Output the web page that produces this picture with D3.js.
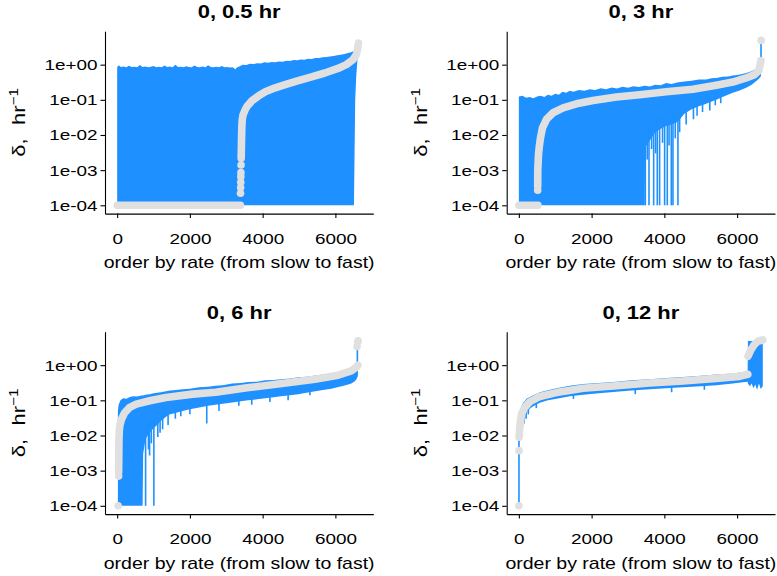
<!DOCTYPE html>
<html><head><meta charset="utf-8">
<script src="https://cdn.jsdelivr.net/npm/d3@7"></script>
<style>body{margin:0;background:#fff}</style>
</head><body>
<svg id="c" width="777" height="576" xmlns="http://www.w3.org/2000/svg"></svg>
<script>
// ---------- data ----------
const titles = ["0, 0.5 hr", "0, 3 hr", "0, 6 hr", "0, 12 hr"];
const xTicks = [0, 2000, 4000, 6000];
const xTickLabels = ["0", "2000", "4000", "6000"];
const yTicks = [1e-4, 1e-3, 1e-2, 1e-1, 1];
const yTickLabels = ["1e-04", "1e-03", "1e-02", "1e-01", "1e+00"];
const xExtent = [1, 6707];
const yExtent = [1e-4, 5.2];
const xTitle = "order by rate (from slow to fast)";

// panel "0, 0.5 hr": error-bar band [order, lower, upper]
const band05 = [[0,1e-4,0.84],[40,1e-4,0.97],[100,1e-4,0.86],[175,1e-4,0.88],[250,1e-4,0.85],[325,1e-4,0.93],[400,1e-4,0.86],[475,1e-4,0.87],[550,1e-4,0.84],[625,1e-4,0.98],[700,1e-4,0.86],[775,1e-4,0.88],[850,1e-4,0.85],[925,1e-4,0.87],[1000,1e-4,0.92],[1075,1e-4,0.85],[1150,1e-4,0.87],[1225,1e-4,0.84],[1300,1e-4,0.95],[1375,1e-4,0.86],[1450,1e-4,0.88],[1525,1e-4,0.85],[1600,1e-4,0.99],[1675,1e-4,0.86],[1750,1e-4,0.87],[1825,1e-4,0.84],[1900,1e-4,0.9],[1975,1e-4,0.86],[2050,1e-4,0.85],[2125,1e-4,0.94],[2200,1e-4,0.86],[2275,1e-4,0.84],[2350,1e-4,0.88],[2425,1e-4,0.85],[2500,1e-4,0.96],[2575,1e-4,0.86],[2650,1e-4,0.84],[2725,1e-4,0.87],[2800,1e-4,0.85],[2875,1e-4,0.92],[2950,1e-4,0.84],[3025,1e-4,0.86],[3100,1e-4,0.83],[3175,1e-4,0.85],[3250,1e-4,0.74],[3300,1e-4,0.84],[3375,1e-4,0.9],[3450,1e-4,1.0],[3550,1e-4,0.98],[3650,1e-4,1.07],[3750,1e-4,1.04],[3850,1e-4,1.1],[3950,1e-4,1.08],[4050,1e-4,1.18],[4150,1e-4,1.13],[4250,1e-4,1.2],[4350,1e-4,1.17],[4450,1e-4,1.24],[4550,1e-4,1.22],[4650,1e-4,1.3],[4750,1e-4,1.27],[4850,1e-4,1.35],[4950,1e-4,1.33],[5050,1e-4,1.4],[5150,1e-4,1.39],[5250,1e-4,1.47],[5350,1e-4,1.46],[5450,1e-4,1.55],[5550,1e-4,1.54],[5650,1e-4,1.62],[5750,1e-4,1.65],[5850,1e-4,1.72],[5950,1e-4,1.76],[6050,1e-4,1.85],[6150,1e-4,1.9],[6250,1e-4,2.0],[6350,1e-4,2.14],[6450,1e-4,2.3],[6510,1e-4,2.5],[6525,0.002,2.6],[6545,0.1,2.8],[6575,0.5,3.0],[6605,1.3,3.4],[6625,2.4,4.0],[6640,4.2,4.6]];
const spikes05 = [];
const rate05a = [[0,1e-4],[3390,1e-4]];
const rate05b = [[3410,2.2e-3],[3415,4e-3],[3420,8e-3],[3428,0.018],[3440,0.028],[3460,0.037],[3520,0.052],[3573,0.066],[3709,0.095],[3891,0.13],[4073,0.17],[4345,0.22],[4618,0.27],[4981,0.35],[5345,0.45],[5709,0.58],[6072,0.78],[6300,1.0],[6481,1.38],[6572,1.9],[6605,2.6],[6620,3.3],[6636,4.1]];
const dots05 = [[3392,2.2e-4],[3395,3.2e-4],[3398,4.5e-4],[3400,6.5e-4],[3403,8.5e-4],[3406,1.4e-3]];

// panel "0, 3 hr"
const band3 = [[0,1e-4,0.125],[100,1e-4,0.13],[200,1e-4,0.115],[300,1e-4,0.12],[400,1e-4,0.11],[500,1e-4,0.125],[600,1e-4,0.13],[700,1e-4,0.12],[800,1e-4,0.14],[900,1e-4,0.13],[1000,1e-4,0.15],[1100,1e-4,0.14],[1200,1e-4,0.17],[1300,1e-4,0.16],[1400,1e-4,0.18],[1500,1e-4,0.17],[1650,1e-4,0.19],[1800,1e-4,0.18],[1950,1e-4,0.2],[2100,1e-4,0.19],[2250,1e-4,0.215],[2400,1e-4,0.2],[2550,1e-4,0.225],[2700,1e-4,0.21],[2850,1e-4,0.235],[3000,1e-4,0.22],[3150,1e-4,0.245],[3300,1e-4,0.23],[3460,1e-4,0.25],[3470,0.0045,0.25],[3600,0.007,0.24],[3750,0.012,0.27],[3900,0.015,0.26],[4050,0.018,0.3],[4200,0.02,0.28],[4350,0.023,0.31],[4450,0.03,0.32],[4550,0.04,0.33],[4750,0.054,0.35],[4950,0.066,0.38],[5150,0.077,0.38],[5300,0.09,0.41],[5430,0.1,0.42],[5600,0.12,0.45],[5750,0.14,0.46],[5880,0.158,0.49],[6050,0.18,0.52],[6250,0.22,0.58],[6400,0.27,0.65],[6520,0.34,0.77],[6600,0.4,0.9],[6655,0.47,1.05]];
const spikes3 = [[3477,1e-4,0.02],[3578,1e-4,0.02],[3706,1e-4,0.03],[3806,1e-4,0.03],[3870,1e-4,0.03],[4008,1e-4,0.03],[4081,1e-4,0.03],[4191,1e-4,0.04],[4237,1e-4,0.04],[4374,1e-4,0.04],[3530,0.002,0.02],[3650,0.004,0.03],[3760,0.003,0.03],[3950,0.006,0.03],[4130,0.005,0.04],[4300,0.008,0.04],[4420,0.012,0.05],[4600,0.02,0.06],[4800,0.028,0.07],[4900,0.035,0.08],[5050,0.045,0.1],[5250,0.05,0.1],[5400,0.07,0.12],[5550,0.08,0.14],[6658,1.1,4.9]];
const rate3a = [[0,1e-4],[525,1e-4]];
const rate3b = [[518,3.5e-4],[520,1e-3],[540,2.8e-3],[560,4.5e-3],[595,8.4e-3],[650,0.016],[760,0.028],[942,0.043],[1217,0.059],[1583,0.077],[2040,0.096],[2681,0.12],[3321,0.14],[4053,0.17],[4785,0.2],[5426,0.26],[5883,0.32],[6250,0.42],[6478,0.52],[6597,0.68],[6634,1.0],[6655,1.3]];
const dots3 = [[518,2.7e-4],[6661,4.9]];

// panel "0, 6 hr"
const band6 = [[20,1e-4,0.05],[40,1e-4,0.075],[91,1e-4,0.1],[164,1e-4,0.115],[255,1e-4,0.11],[350,1e-4,0.125],[436,1e-4,0.13],[550,1e-4,0.128],[700,1e-4,0.14],[715,0.003,0.138],[780,0.008,0.145],[891,0.012,0.15],[1000,0.016,0.16],[1100,0.02,0.165],[1200,0.026,0.17],[1345,0.034,0.18],[1450,0.04,0.19],[1550,0.042,0.195],[1800,0.05,0.205],[2000,0.056,0.215],[2254,0.063,0.235],[2500,0.07,0.245],[2700,0.075,0.26],[2900,0.08,0.27],[3163,0.087,0.3],[3400,0.094,0.31],[3600,0.1,0.33],[3850,0.107,0.34],[4072,0.115,0.37],[4300,0.122,0.38],[4500,0.13,0.4],[4750,0.14,0.42],[4981,0.15,0.45],[5200,0.165,0.47],[5450,0.18,0.51],[5700,0.2,0.55],[5890,0.215,0.59],[6050,0.235,0.62],[6200,0.255,0.66],[6350,0.28,0.72],[6436,0.3,0.77],[6520,0.34,0.84],[6580,0.4,0.95],[6620,0.5,1.2]];
const spikes6 = [[782,1e-4,0.02],[1009,1e-4,0.03],[860,0.004,0.02],[891,0.0027,0.02],[940,0.006,0.02],[1118,0.009,0.03],[1180,0.012,0.03],[1250,0.015,0.04],[1400,0.02,0.05],[1600,0.03,0.06],[1750,0.035,0.06],[2000,0.04,0.07],[2463,0.022,0.08],[2800,0.05,0.09],[3345,0.07,0.12],[3700,0.075,0.12],[4200,0.09,0.14],[4700,0.1,0.16],[5300,0.14,0.2],[6605,0.9,4.6]];
const rate6a = [[40,9e-4],[45,3e-3],[50,0.008],[60,0.014],[73,0.019],[118,0.029],[209,0.045],[345,0.063],[527,0.078],[891,0.097],[1345,0.12],[2073,0.15],[2709,0.17],[3618,0.23],[4527,0.3],[5436,0.4],[6072,0.52],[6436,0.69],[6600,0.92],[6618,1.0]];
const dots6 = [[27,1e-4],[40,7e-4],[6595,3.4],[6612,4.6],[6625,4.9]];

// panel "0, 12 hr"
const band12 = [[8,0.006,0.03],[27,0.01,0.045],[46,0.014,0.058],[73,0.022,0.07],[119,0.03,0.085],[165,0.038,0.095],[210,0.045,0.11],[300,0.058,0.125],[393,0.068,0.14],[576,0.085,0.17],[800,0.1,0.195],[1034,0.11,0.22],[1400,0.13,0.26],[1766,0.145,0.29],[2200,0.16,0.31],[2681,0.175,0.34],[3100,0.19,0.37],[3596,0.205,0.4],[4050,0.22,0.43],[4511,0.235,0.46],[5000,0.25,0.5],[5426,0.27,0.54],[5883,0.3,0.58],[6100,0.32,0.62],[6290,0.34,0.68],[6298,0.3,4.9],[6350,0.25,4.9],[6400,0.3,4.9],[6450,0.22,4.9],[6500,0.28,4.9],[6550,0.2,4.9],[6600,0.3,4.9],[6650,0.21,4.9],[6707,0.25,4.9]];
const spikes12 = [[3,1e-4,0.03],[60,0.008,0.03],[95,0.015,0.05],[140,0.022,0.06],[200,0.03,0.08],[260,0.04,0.09],[480,0.06,0.1],[1500,0.11,0.15],[3200,0.15,0.2],[4200,0.17,0.25],[5100,0.2,0.28]];
const rate12a = [[8,0.009],[15,0.013],[27,0.019],[73,0.041],[165,0.063],[302,0.091],[576,0.129],[1034,0.166],[1766,0.22],[2681,0.26],[3596,0.31],[4511,0.355],[5426,0.42],[6066,0.48],[6295,0.55]];
const rate12b = [[6300,1.8],[6387,2.8],[6478,3.9],[6570,4.8],[6707,5.2]];
const dots12 = [[0,1e-4],[5,3.7e-3]];

// ---------- drawing ----------
const panels = [
  {title: titles[0], band: band05, spikes: spikes05, lines: [rate05a, rate05b], dots: dots05},
  {title: titles[1], band: band3, spikes: spikes3, lines: [rate3a, rate3b], dots: dots3},
  {title: titles[2], band: band6, spikes: spikes6, lines: [rate6a], dots: dots6},
  {title: titles[3], band: band12, spikes: spikes12, lines: [rate12a, rate12b], dots: dots12}
];
const layout = [{l:105,t:31.2},{l:506.7,t:31.2},{l:105,t:331.7},{l:506.7,t:331.7}];
const W = 268.3, H = 182.4;
const SX = 1.22;
const FONT = '"Liberation Sans", Arial, Helvetica, sans-serif';
const BLUE = '#1E90FF', GREY = '#E0E0E0';

const n = xExtent[1] - xExtent[0];
const xDom = [xExtent[0] - 0.05*n, xExtent[1] + 0.05*n];
const ly0 = Math.log10(yExtent[0]), ly1 = Math.log10(yExtent[1]), lr = ly1 - ly0;
const yDom = [Math.pow(10, ly0 - 0.05*lr), Math.pow(10, ly1 + 0.05*lr)];

const svg = d3.select('#c');
svg.append('rect').attr('width',777).attr('height',576).attr('fill','#fff');

panels.forEach((p, i) => {
  const L = layout[i];
  const g = svg.append('g').attr('transform', `translate(${L.l},${L.t})`);
  const x = d3.scaleLinear().domain(xDom).range([0, W]);
  const y = d3.scaleLog().domain(yDom).range([H, 0]);

  g.append('path').datum(p.band).attr('fill', BLUE)
    .attr('d', d3.area().x(d => x(d[0])).y0(d => y(d[1])).y1(d => y(d[2])));
  g.append('g').selectAll('line').data(p.spikes).join('line')
    .attr('x1', d => x(d[0])).attr('x2', d => x(d[0]))
    .attr('y1', d => y(d[1])).attr('y2', d => y(d[2]))
    .attr('stroke', BLUE).attr('stroke-width', 1.6);

  const line = d3.line().x(d => x(d[0])).y(d => y(d[1]));
  p.lines.forEach(c => g.append('path').datum(c).attr('d', line)
    .attr('fill', 'none').attr('stroke', GREY).attr('stroke-width', 7.6)
    .attr('stroke-linecap', 'round').attr('stroke-linejoin', 'round'));
  g.append('g').selectAll('circle').data(p.dots).join('circle')
    .attr('cx', d => x(d[0])).attr('cy', d => y(d[1])).attr('r', 3.8).attr('fill', GREY);

  // axes
  const xa = g.append('g').attr('transform', `translate(0,${H})`)
    .call(d3.axisBottom(x).tickValues(xTicks).tickFormat((d, k) => xTickLabels[k]).tickSize(4.5).tickSizeOuter(0));
  xa.selectAll('text').attr('y', 19).attr('transform', `scale(${SX},1)`);
  const ya = g.append('g')
    .call(d3.axisLeft(y).tickValues(yTicks).tickFormat((d, k) => yTickLabels[k]).tickSize(4.5).tickSizeOuter(0));
  ya.selectAll('text').attr('x', -7.5 / SX).attr('transform', `scale(${SX},1)`);
  [xa, ya].forEach(a => {
    a.attr('font-family', FONT).attr('font-size', 15.5);
    a.selectAll('text').attr('fill', '#000');
    a.selectAll('line').attr('stroke', '#000').attr('stroke-width', 1.1);
    a.select('.domain').attr('stroke', '#000').attr('stroke-width', 1.1);
  });

  // title
  g.append('g').attr('transform', `translate(${W/2},-13) scale(${SX},1)`)
    .append('text').attr('text-anchor', 'middle').attr('font-family', FONT)
    .attr('font-weight', 'bold').attr('font-size', 18).attr('fill', '#000').text(p.title);
  // x title
  g.append('g').attr('transform', `translate(${W/2},${H + 54.7}) scale(${SX},1)`)
    .append('text').attr('text-anchor', 'middle').attr('font-family', FONT)
    .attr('font-size', 16).attr('fill', '#000').text(xTitle);
  // y title
  const yt = g.append('g').attr('transform', `translate(-80,${H/2}) rotate(-90) scale(${SX},1)`)
    .append('text').attr('text-anchor', 'middle').attr('font-family', FONT)
    .attr('font-size', 18).attr('fill', '#000');
  yt.append('tspan').text('δ,');
  yt.append('tspan').attr('dx', 11).text('hr');
  yt.append('tspan').attr('dy', -7).attr('font-size', 12.5).text('−1');
});
</script>
</body></html>
